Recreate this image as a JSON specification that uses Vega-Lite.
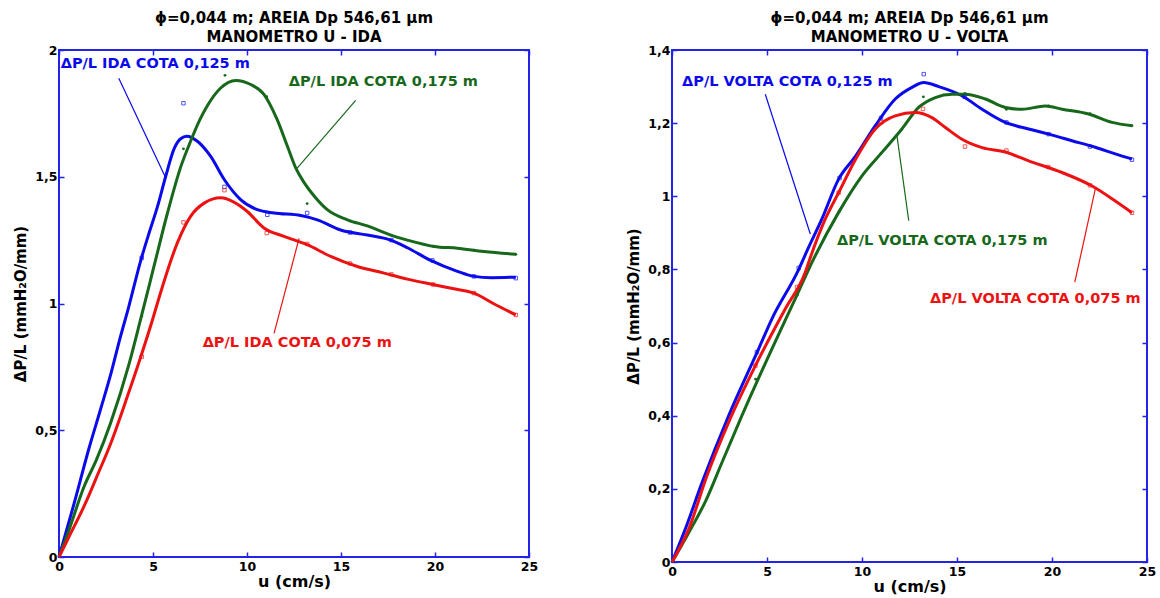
{
  "$schema": "https://vega.github.io/schema/vega-lite/v6.json",
  "padding": {"left": 12, "top": 10, "right": 0, "bottom": 0},
  "spacing": 86,
  "config": {
    "font": "DejaVu Sans",
    "view": {"stroke": "#2323e8", "strokeWidth": 2},
    "axis": {"domain": false, "grid": false, "tickColor": "#2323e8", "tickSize": -5, "tickWidth": 1.5,
      "labelFont": "DejaVu Sans", "labelFontSize": 12.5, "labelFontWeight": "bold", "labelColor": "black",
      "labelFlush": false, "labelOverlap": false, "titleFont": "DejaVu Sans", "titleFontWeight": "bold", "titleColor": "black"},
    "title": {"font": "DejaVu Sans", "fontSize": 15, "fontWeight": "bold", "color": "black", "offset": -1, "lineHeight": 19, "anchor": "middle"}
  },
  "datasets": {
    "ida_lines": [
      {"series":"0,125","u":0,"v":0},{"series":"0,125","u":0.8,"v":0.21},{"series":"0,125","u":1.6,"v":0.43},{"series":"0,125","u":2.2,"v":0.58},{"series":"0,125","u":2.75,"v":0.72},{"series":"0,125","u":3.2,"v":0.85},{"series":"0,125","u":3.72,"v":0.99},{"series":"0,125","u":4.35,"v":1.17},{"series":"0,125","u":4.8,"v":1.28},{"series":"0,125","u":5.23,"v":1.38},{"series":"0,125","u":5.67,"v":1.5},{"series":"0,125","u":6.12,"v":1.61},{"series":"0,125","u":6.47,"v":1.65},{"series":"0,125","u":6.8,"v":1.66},{"series":"0,125","u":7.36,"v":1.64},{"series":"0,125","u":8.07,"v":1.58},{"series":"0,125","u":8.78,"v":1.49},{"series":"0,125","u":9.66,"v":1.41},{"series":"0,125","u":10.55,"v":1.37},{"series":"0,125","u":11.44,"v":1.357},{"series":"0,125","u":12.86,"v":1.347},{"series":"0,125","u":13.74,"v":1.33},{"series":"0,125","u":14.98,"v":1.29},{"series":"0,125","u":16.4,"v":1.27},{"series":"0,125","u":17.64,"v":1.25},{"series":"0,125","u":18.53,"v":1.22},{"series":"0,125","u":19.77,"v":1.17},{"series":"0,125","u":21.19,"v":1.127},{"series":"0,125","u":22.07,"v":1.107},{"series":"0,125","u":23.0,"v":1.102},{"series":"0,125","u":24.3,"v":1.104},
      {"series":"0,175","u":0,"v":0},{"series":"0,175","u":0.5,"v":0.1},{"series":"0,175","u":1.33,"v":0.277},{"series":"0,175","u":2.0,"v":0.385},{"series":"0,175","u":2.75,"v":0.53},{"series":"0,175","u":3.72,"v":0.76},{"series":"0,175","u":4.35,"v":0.94},{"series":"0,175","u":5.05,"v":1.146},{"series":"0,175","u":5.77,"v":1.357},{"series":"0,175","u":6.48,"v":1.54},{"series":"0,175","u":7.0,"v":1.64},{"series":"0,175","u":7.5,"v":1.726},{"series":"0,175","u":7.89,"v":1.78},{"series":"0,175","u":8.6,"v":1.85},{"series":"0,175","u":9.4,"v":1.88},{"series":"0,175","u":10.2,"v":1.864},{"series":"0,175","u":10.9,"v":1.825},{"series":"0,175","u":11.6,"v":1.726},{"series":"0,175","u":12.15,"v":1.62},{"series":"0,175","u":12.59,"v":1.535},{"series":"0,175","u":13.03,"v":1.478},{"series":"0,175","u":13.56,"v":1.425},{"series":"0,175","u":14.27,"v":1.37},{"series":"0,175","u":15.34,"v":1.33},{"series":"0,175","u":16.4,"v":1.306},{"series":"0,175","u":17.64,"v":1.27},{"series":"0,175","u":18.53,"v":1.25},{"series":"0,175","u":19.95,"v":1.225},{"series":"0,175","u":21.19,"v":1.218},{"series":"0,175","u":22.6,"v":1.205},{"series":"0,175","u":24.3,"v":1.194},
      {"series":"0,075","u":0,"v":0},{"series":"0,075","u":0.5,"v":0.075},{"series":"0,075","u":1.48,"v":0.224},{"series":"0,075","u":2.0,"v":0.315},{"series":"0,075","u":2.75,"v":0.448},{"series":"0,075","u":3.63,"v":0.632},{"series":"0,075","u":4.35,"v":0.79},{"series":"0,075","u":4.97,"v":0.935},{"series":"0,075","u":5.23,"v":1.0},{"series":"0,075","u":5.6,"v":1.09},{"series":"0,075","u":6.3,"v":1.24},{"series":"0,075","u":7.0,"v":1.344},{"series":"0,075","u":7.72,"v":1.396},{"series":"0,075","u":8.6,"v":1.417},{"series":"0,075","u":9.3,"v":1.4},{"series":"0,075","u":10.0,"v":1.364},{"series":"0,075","u":10.9,"v":1.298},{"series":"0,075","u":11.97,"v":1.265},{"series":"0,075","u":13.2,"v":1.232},{"series":"0,075","u":14.45,"v":1.186},{"series":"0,075","u":15.87,"v":1.146},{"series":"0,075","u":17.29,"v":1.12},{"series":"0,075","u":18.53,"v":1.096},{"series":"0,075","u":19.95,"v":1.074},{"series":"0,075","u":21.0,"v":1.058},{"series":"0,075","u":22.07,"v":1.041},{"series":"0,075","u":23.1,"v":1.0},{"series":"0,075","u":24.3,"v":0.955}
    ],
    "ida_pts": [
      {"series":"0,125","u":4.4,"v":1.18},{"series":"0,125","u":6.62,"v":1.79},{"series":"0,125","u":8.8,"v":1.46},{"series":"0,125","u":11.08,"v":1.35},{"series":"0,125","u":13.2,"v":1.357},{"series":"0,125","u":15.48,"v":1.28},{"series":"0,125","u":17.68,"v":1.25},{"series":"0,125","u":19.86,"v":1.17},{"series":"0,125","u":22.07,"v":1.107},{"series":"0,125","u":24.3,"v":1.1},
      {"series":"0,175","u":4.4,"v":0.95},{"series":"0,175","u":6.62,"v":1.61},{"series":"0,175","u":8.83,"v":1.9},{"series":"0,175","u":11.05,"v":1.816},{"series":"0,175","u":13.2,"v":1.394},{"series":"0,175","u":15.48,"v":1.325},{"series":"0,175","u":17.68,"v":1.27},{"series":"0,175","u":19.9,"v":1.226},{"series":"0,175","u":22.07,"v":1.21},{"series":"0,175","u":24.3,"v":1.194},
      {"series":"0,075","u":4.4,"v":0.79},{"series":"0,075","u":6.62,"v":1.32},{"series":"0,075","u":8.8,"v":1.447},{"series":"0,075","u":11.05,"v":1.278},{"series":"0,075","u":13.2,"v":1.235},{"series":"0,075","u":15.48,"v":1.158},{"series":"0,075","u":17.68,"v":1.115},{"series":"0,075","u":19.9,"v":1.075},{"series":"0,075","u":22.07,"v":1.041},{"series":"0,075","u":24.3,"v":0.955}
    ],
    "volta_lines": [
      {"series":"0,125","u":0,"v":0},{"series":"0,125","u":0.7,"v":0.09},{"series":"0,125","u":1.58,"v":0.217},{"series":"0,125","u":2.98,"v":0.4},{"series":"0,125","u":4.56,"v":0.583},{"series":"0,125","u":5.26,"v":0.665},{"series":"0,125","u":6.67,"v":0.8},{"series":"0,125","u":7.1,"v":0.85},{"series":"0,125","u":7.89,"v":0.938},{"series":"0,125","u":8.77,"v":1.047},{"series":"0,125","u":9.65,"v":1.109},{"series":"0,125","u":10.7,"v":1.193},{"series":"0,125","u":11.75,"v":1.266},{"series":"0,125","u":12.63,"v":1.298},{"series":"0,125","u":13.25,"v":1.311},{"series":"0,125","u":14.04,"v":1.3},{"series":"0,125","u":15.26,"v":1.275},{"series":"0,125","u":16.32,"v":1.238},{"series":"0,125","u":17.54,"v":1.202},{"series":"0,125","u":18.77,"v":1.184},{"series":"0,125","u":19.82,"v":1.17},{"series":"0,125","u":21.05,"v":1.152},{"series":"0,125","u":22.28,"v":1.134},{"series":"0,125","u":23.33,"v":1.116},{"series":"0,125","u":24.21,"v":1.102},
      {"series":"0,175","u":0,"v":0},{"series":"0,175","u":0.88,"v":0.08},{"series":"0,175","u":1.8,"v":0.17},{"series":"0,175","u":2.63,"v":0.272},{"series":"0,175","u":3.68,"v":0.4},{"series":"0,175","u":5.26,"v":0.583},{"series":"0,175","u":6.49,"v":0.72},{"series":"0,175","u":7.45,"v":0.828},{"series":"0,175","u":8.77,"v":0.956},{"series":"0,175","u":10.0,"v":1.056},{"series":"0,175","u":11.05,"v":1.12},{"series":"0,175","u":12.1,"v":1.184},{"series":"0,175","u":12.98,"v":1.243},{"series":"0,175","u":13.86,"v":1.27},{"series":"0,175","u":14.74,"v":1.279},{"series":"0,175","u":15.44,"v":1.279},{"series":"0,175","u":16.49,"v":1.266},{"series":"0,175","u":17.54,"v":1.243},{"series":"0,175","u":18.42,"v":1.238},{"series":"0,175","u":19.65,"v":1.247},{"series":"0,175","u":20.53,"v":1.238},{"series":"0,175","u":21.93,"v":1.225},{"series":"0,175","u":23.16,"v":1.202},{"series":"0,175","u":24.21,"v":1.193},
      {"series":"0,075","u":0,"v":0},{"series":"0,075","u":0.88,"v":0.09},{"series":"0,075","u":1.84,"v":0.236},{"series":"0,075","u":2.98,"v":0.382},{"series":"0,075","u":4.39,"v":0.537},{"series":"0,075","u":5.96,"v":0.692},{"series":"0,075","u":7.02,"v":0.793},{"series":"0,075","u":7.25,"v":0.828},{"series":"0,075","u":8.07,"v":0.938},{"series":"0,075","u":8.77,"v":1.01},{"series":"0,075","u":9.65,"v":1.1},{"series":"0,075","u":10.7,"v":1.184},{"series":"0,075","u":11.75,"v":1.22},{"series":"0,075","u":12.81,"v":1.229},{"series":"0,075","u":13.68,"v":1.215},{"series":"0,075","u":14.39,"v":1.188},{"series":"0,075","u":15.26,"v":1.156},{"series":"0,075","u":16.32,"v":1.133},{"series":"0,075","u":17.54,"v":1.121},{"series":"0,075","u":18.77,"v":1.097},{"series":"0,075","u":20.53,"v":1.065},{"series":"0,075","u":22.11,"v":1.028},{"series":"0,075","u":23.33,"v":0.987},{"series":"0,075","u":24.21,"v":0.955}
    ],
    "volta_pts": [
      {"series":"0,125","u":4.47,"v":0.574},{"series":"0,125","u":6.67,"v":0.804},{"series":"0,125","u":8.82,"v":1.05},{"series":"0,125","u":11.0,"v":1.214},{"series":"0,125","u":13.25,"v":1.334},{"series":"0,125","u":15.4,"v":1.272},{"series":"0,125","u":17.6,"v":1.202},{"series":"0,125","u":19.82,"v":1.17},{"series":"0,125","u":22.0,"v":1.136},{"series":"0,125","u":24.21,"v":1.1},
      {"series":"0,175","u":4.4,"v":0.5},{"series":"0,175","u":6.6,"v":0.73},{"series":"0,175","u":8.8,"v":0.958},{"series":"0,175","u":11.0,"v":1.117},{"series":"0,175","u":13.23,"v":1.272},{"series":"0,175","u":15.42,"v":1.281},{"series":"0,175","u":17.6,"v":1.238},{"series":"0,175","u":19.82,"v":1.247},{"series":"0,175","u":22.0,"v":1.226},{"series":"0,175","u":24.21,"v":1.193},
      {"series":"0,075","u":4.39,"v":0.537},{"series":"0,075","u":6.58,"v":0.752},{"series":"0,075","u":8.77,"v":1.01},{"series":"0,075","u":11.0,"v":1.202},{"series":"0,075","u":13.21,"v":1.239},{"series":"0,075","u":15.42,"v":1.136},{"series":"0,075","u":17.6,"v":1.125},{"series":"0,075","u":19.8,"v":1.08},{"series":"0,075","u":22.0,"v":1.03},{"series":"0,075","u":24.21,"v":0.955}
    ],
    "ida_labels": [
      {"series":"0,125","u":0.09,"v":1.945,"label":"ΔP/L IDA COTA 0,125 m"},
      {"series":"0,175","u":12.22,"v":1.874,"label":"ΔP/L IDA COTA 0,175 m"},
      {"series":"0,075","u":7.64,"v":0.844,"label":"ΔP/L IDA COTA 0,075 m"}
    ],
    "volta_labels": [
      {"series":"0,125","u":0.53,"v":1.313,"label":"ΔP/L VOLTA COTA 0,125 m"},
      {"series":"0,175","u":8.68,"v":0.878,"label":"ΔP/L VOLTA COTA 0,175 m"},
      {"series":"0,075","u":13.58,"v":0.718,"label":"ΔP/L VOLTA COTA 0,075 m"}
    ],
    "ida_leaders": [
      {"series":"0,125","u1":3.18,"v1":1.889,"u2":5.68,"v2":1.495},
      {"series":"0,175","u1":15.78,"v1":1.801,"u2":12.59,"v2":1.527},
      {"series":"0,075","u1":11.44,"v1":0.882,"u2":12.77,"v2":1.257}
    ],
    "volta_leaders": [
      {"series":"0,125","u1":4.91,"v1":1.279,"u2":7.28,"v2":0.897},
      {"series":"0,175","u1":11.84,"v1":1.166,"u2":12.46,"v2":0.933},
      {"series":"0,075","u1":22.28,"v1":1.02,"u2":21.2,"v2":0.765}
    ]
  },
  "hconcat": [
    {
      "width": 470,
      "height": 507,
      "title": {"text": ["ϕ=0,044 m; AREIA Dp 546,61 μm", "MANOMETRO U - IDA"]},
      "resolve": {"axis": {"x": "independent", "y": "independent"}},
      "layer": [
        {
          "data": {"name": "ida_lines"},
          "mark": {"type": "line", "strokeWidth": 3, "interpolate": "monotone"},
          "encoding": {
            "x": {"field": "u", "type": "quantitative", "scale": {"domain": [0, 25], "nice": false, "zero": false},
              "axis": {"orient": "bottom", "values": [0, 5, 10, 15, 20, 25], "title": "u (cm/s)", "titleFontSize": 16, "labelPadding": 8, "titlePadding": 1}},
            "y": {"field": "v", "type": "quantitative", "scale": {"domain": [0, 2], "nice": false},
              "axis": {"orient": "left", "values": [0, 0.5, 1, 1.5, 2], "labelExpr": "replace(format(datum.value, '.1~f'), '.', ',')", "title": "ΔP/L  (mmH₂O/mm)", "titleFontSize": 15, "labelPadding": 7, "titlePadding": 6}},
            "color": {"field": "series", "type": "nominal", "scale": {"domain": ["0,125", "0,175", "0,075"], "range": ["#0a0aeb", "#17681b", "#ec1212"]}, "legend": null}
          }
        },
        {
          "data": {"name": "ida_pts"},
          "transform": [{"filter": "datum.series != '0,175'"}],
          "mark": {"type": "point", "shape": "square", "size": 12, "filled": false, "strokeWidth": 1},
          "encoding": {
            "x": {"field": "u", "type": "quantitative", "axis": {"orient": "top", "values": [0, 5, 10, 15, 20, 25], "labels": false, "title": null}},
            "y": {"field": "v", "type": "quantitative", "axis": {"orient": "right", "values": [0, 0.5, 1, 1.5, 2], "labels": false, "title": null}},
            "color": {"field": "series", "type": "nominal", "legend": null}
          }
        },
        {
          "data": {"name": "ida_pts"},
          "transform": [{"filter": "datum.series == '0,175'"}],
          "mark": {"type": "point", "shape": "circle", "size": 8, "filled": true, "opacity": 1},
          "encoding": {
            "x": {"field": "u", "type": "quantitative", "axis": null},
            "y": {"field": "v", "type": "quantitative", "axis": null},
            "color": {"field": "series", "type": "nominal", "legend": null}
          }
        },
        {
          "data": {"name": "ida_leaders"},
          "mark": {"type": "rule", "strokeWidth": 1.2},
          "encoding": {
            "x": {"field": "u1", "type": "quantitative", "axis": null},
            "y": {"field": "v1", "type": "quantitative", "axis": null},
            "x2": {"field": "u2"},
            "y2": {"field": "v2"},
            "color": {"field": "series", "type": "nominal", "legend": null}
          }
        },
        {
          "data": {"name": "ida_labels"},
          "mark": {"type": "text", "align": "left", "baseline": "middle", "font": "DejaVu Sans", "fontSize": 14.5, "fontWeight": "bold"},
          "encoding": {
            "x": {"field": "u", "type": "quantitative", "axis": null},
            "y": {"field": "v", "type": "quantitative", "axis": null},
            "text": {"field": "label"},
            "color": {"field": "series", "type": "nominal", "legend": null}
          }
        }
      ]
    },
    {
      "width": 475,
      "height": 512,
      "title": {"text": ["ϕ=0,044 m; AREIA Dp 546,61 μm", "MANOMETRO U - VOLTA"]},
      "resolve": {"axis": {"x": "independent", "y": "independent"}},
      "layer": [
        {
          "data": {"name": "volta_lines"},
          "mark": {"type": "line", "strokeWidth": 3, "interpolate": "monotone"},
          "encoding": {
            "x": {"field": "u", "type": "quantitative", "scale": {"domain": [0, 25], "nice": false, "zero": false},
              "axis": {"orient": "bottom", "values": [0, 5, 10, 15, 20, 25], "title": "u (cm/s)", "titleFontSize": 16, "labelPadding": 8, "titlePadding": 1}},
            "y": {"field": "v", "type": "quantitative", "scale": {"domain": [0, 1.4], "nice": false},
              "axis": {"orient": "left", "values": [0, 0.2, 0.4, 0.6, 0.8, 1, 1.2, 1.4], "labelExpr": "replace(format(datum.value, '.1~f'), '.', ',')", "title": "ΔP/L  (mmH₂O/mm)", "titleFontSize": 15, "labelPadding": 7, "titlePadding": 6}},
            "color": {"field": "series", "type": "nominal", "legend": null}
          }
        },
        {
          "data": {"name": "volta_pts"},
          "transform": [{"filter": "datum.series != '0,175'"}],
          "mark": {"type": "point", "shape": "square", "size": 12, "filled": false, "strokeWidth": 1},
          "encoding": {
            "x": {"field": "u", "type": "quantitative", "axis": {"orient": "top", "values": [0, 5, 10, 15, 20, 25], "labels": false, "title": null}},
            "y": {"field": "v", "type": "quantitative", "axis": {"orient": "right", "values": [0, 0.2, 0.4, 0.6, 0.8, 1, 1.2, 1.4], "labels": false, "title": null}},
            "color": {"field": "series", "type": "nominal", "legend": null}
          }
        },
        {
          "data": {"name": "volta_pts"},
          "transform": [{"filter": "datum.series == '0,175'"}],
          "mark": {"type": "point", "shape": "circle", "size": 8, "filled": true, "opacity": 1},
          "encoding": {
            "x": {"field": "u", "type": "quantitative", "axis": null},
            "y": {"field": "v", "type": "quantitative", "axis": null},
            "color": {"field": "series", "type": "nominal", "legend": null}
          }
        },
        {
          "data": {"name": "volta_leaders"},
          "mark": {"type": "rule", "strokeWidth": 1.2},
          "encoding": {
            "x": {"field": "u1", "type": "quantitative", "axis": null},
            "y": {"field": "v1", "type": "quantitative", "axis": null},
            "x2": {"field": "u2"},
            "y2": {"field": "v2"},
            "color": {"field": "series", "type": "nominal", "legend": null}
          }
        },
        {
          "data": {"name": "volta_labels"},
          "mark": {"type": "text", "align": "left", "baseline": "middle", "font": "DejaVu Sans", "fontSize": 14.5, "fontWeight": "bold"},
          "encoding": {
            "x": {"field": "u", "type": "quantitative", "axis": null},
            "y": {"field": "v", "type": "quantitative", "axis": null},
            "text": {"field": "label"},
            "color": {"field": "series", "type": "nominal", "legend": null}
          }
        }
      ]
    }
  ]
}
